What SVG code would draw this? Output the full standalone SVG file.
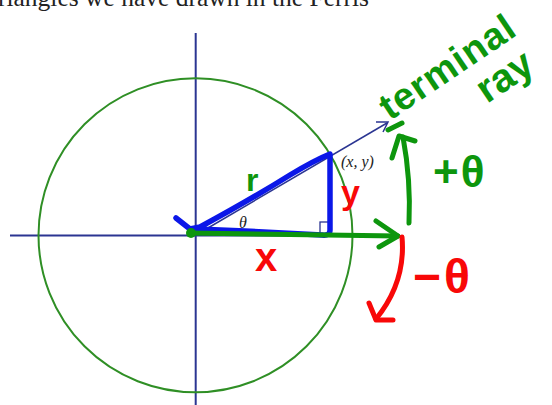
<svg xmlns="http://www.w3.org/2000/svg" width="552" height="405" viewBox="0 0 552 405">
<style>
.axis{stroke:#2b3592;stroke-width:2;fill:none}
.circ{stroke:#2f8f25;stroke-width:2;fill:none}
.pen-b{stroke:#0b17e8;stroke-width:5.5;fill:none;stroke-linecap:round;stroke-linejoin:round}
.pen-g{stroke:#0d960d;stroke-width:5;fill:none;stroke-linecap:round;stroke-linejoin:round}
.pen-r{stroke:#f80808;stroke-width:5;fill:none;stroke-linecap:round;stroke-linejoin:round}
.hw{font-family:"Liberation Sans",Arial,sans-serif;font-weight:bold}
.book{font-family:"Liberation Serif","Times New Roman",serif}
</style>
<rect width="552" height="405" fill="#fff"/>
<text class="book" x="369" y="6" font-size="25.5" text-anchor="end" fill="#222">triangles we have drawn in the Ferris</text>
<g id="axes">
<line class="axis" x1="10" y1="235.5" x2="400" y2="235.5"/>
<line class="axis" x1="195.7" y1="33" x2="195.7" y2="405"/>
</g>
<g id="circle"><circle class="circ" cx="195.5" cy="235.3" r="157"/></g>
<g id="ray">
<line x1="196" y1="235" x2="387" y2="123" stroke="#2b3592" stroke-width="1.5"/>
<path d="M376 122 L388 122 L383 132" stroke="#2b3592" stroke-width="1.5" fill="none"/>
<rect x="320" y="222" width="11" height="12" stroke="#2b3592" stroke-width="1.3" fill="none"/>
<text class="book" x="341" y="167" font-size="16" font-style="italic" fill="#222">(x, y)</text>
<text class="book" x="239" y="228" font-size="16" font-style="italic" fill="#222">θ</text>
</g>
<g id="triangle">
<path class="pen-b" d="M176 218 L190 229 L200 227 Q250 200 290 175 Q315 160 330 154 L330 230 Q330 236 322 235 L245 231 L196 229"/>
</g>
<g id="green-marks">
<path class="pen-g" d="M190 233 L398 236" stroke-width="4.5"/>
<circle cx="191" cy="233" r="5" fill="#0d960d"/>
<path class="pen-g" d="M376 221 L398 236 L379 247"/>
<path class="pen-g" d="M409 223 Q411 180 403 137"/>
<path class="pen-g" d="M392 158 L399 136 L415 141"/>
<path class="pen-g" d="M388 130 L402 123"/>
</g>
<g id="red-marks">
<path class="pen-r" d="M402 237 Q406 282 376 319"/>
<path class="pen-r" d="M369 303 L376 320 L393 320"/>
</g>
<g id="labels">
<text class="hw" x="246" y="191" font-size="32" fill="#0d960d">r</text>
<text class="hw" x="341" y="204" font-size="34" fill="#f80808">y</text>
<text class="hw" x="255" y="271" font-size="40" fill="#f80808">x</text>
<text class="hw" x="433" y="187" font-size="44" fill="#0d960d" letter-spacing="2">+θ</text>
<text class="hw" x="413" y="293" font-size="48" fill="#f80808" letter-spacing="3">−θ</text>
<text class="hw" transform="translate(390,121) rotate(-34)" font-size="38" fill="#0d960d" letter-spacing="1">terminal</text>
<text class="hw" transform="translate(487,104) rotate(-34)" font-size="40" fill="#0d960d">ray</text>
</g>
</svg>
